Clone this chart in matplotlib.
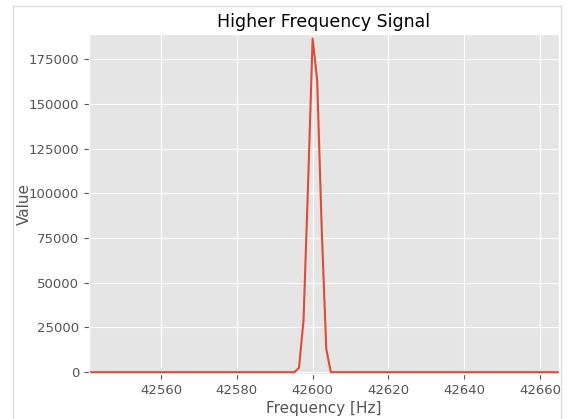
import matplotlib.pyplot as plt
from matplotlib.lines import Line2D

plt.style.use("ggplot")

# spectrum samples around the peak (zero elsewhere)
freq = [42541.0, 42595.2, 42596.4, 42597.6, 42598.8, 42600.0,
        42601.2, 42602.4, 42603.6, 42604.8, 42665.0]
value = [0, 0, 2500, 29000, 105000, 186500, 163000, 80000, 13000, 0, 0]

xticks = [42560, 42580, 42600, 42620, 42640, 42660]
yticks = [0, 25000, 50000, 75000, 100000, 125000, 150000, 175000]

fig = plt.figure(figsize=(5.67, 4.19), dpi=100)
ax = fig.add_axes([89 / 567, 1 - 374 / 419, 470 / 567, 340 / 419])

ax.plot(freq, value, color="#E24A33", lw=1.5)
ax.set_xlim(42541.0, 42665)
ax.set_ylim(-1000, 189000)
ax.set_xticks(xticks)
ax.set_yticks(yticks)
ax.tick_params(labelsize=9.5, colors="#555555")
ax.set_title("Higher Frequency Signal", fontsize=12.5, pad=5)
ax.set_xlabel("Frequency [Hz]", fontsize=11, color="#555555", labelpad=3)
ax.set_ylabel("Value", fontsize=11, color="#555555", labelpad=-2)

# light notebook output frame
c = "#dddddd"
fig.add_artist(Line2D([13 / 567, 13 / 567], [0, 1 - 6 / 419], color=c, lw=1))
fig.add_artist(Line2D([13 / 567, 561 / 567], [1 - 6 / 419, 1 - 6 / 419], color=c, lw=1))
fig.add_artist(Line2D([561 / 567, 561 / 567], [0, 1 - 6 / 419], color=c, lw=1))

plt.savefig("out.png", dpi=100)
